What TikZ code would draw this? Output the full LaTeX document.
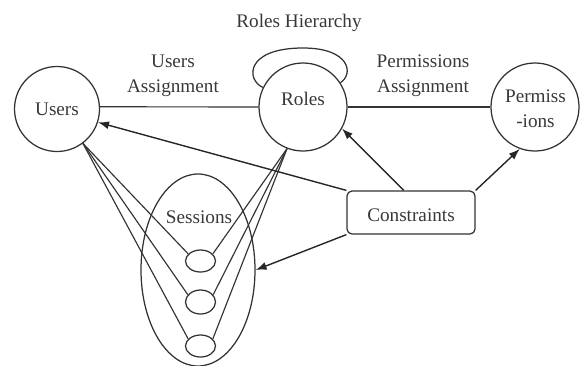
\documentclass[tikz,border=0pt]{standalone}
\usepackage{fontspec}
\setmainfont{Liberation Serif}
\usetikzlibrary{shapes.geometric,arrows.meta}
\begin{document}
\begin{tikzpicture}[x=1pt,y=1pt,
  ink/.style={draw=black!80,line width=1.25pt},
  circ/.style={ink,circle,minimum size=87pt,inner sep=0pt,align=center},
  sess/.style={ink,ellipse,minimum width=30pt,inner sep=0pt},
  lbl/.style={text=black!78,font=\fontsize{19.2}{25}\selectfont,align=center,inner sep=0pt},
  link/.style={draw=black!80,line width=1.15pt},
  arr/.style={draw=black!85,line width=1.4pt,-{Latex[length=11pt,width=8pt]}}
]
\useasboundingbox (0,-365) rectangle (580,0);
\clip (0,-365) rectangle (580,0);
\node[circ,minimum size=85pt] (users) at (57,-109) {};
\node[circ,minimum size=88pt] (roles) at (303,-107) {};
\node[circ,minimum size=88pt] (perm) at (535,-107) {};
\node[ink,ellipse,minimum width=114pt,minimum height=192pt,inner sep=0pt] (sessions) at (198,-270) {};
\node[sess,minimum height=22pt] (s1) at (200.5,-261) {};
\node[sess,minimum height=24pt] (s2) at (200.5,-302) {};
\node[sess,minimum height=22pt] (s3) at (200.5,-346) {};
\node[ink,rectangle,rounded corners=5pt,minimum width=128pt,minimum height=43pt,inner sep=0pt] (cons) at (411,-212.5) {};
\node[lbl] (tusers) at (57,-109) {Users};
\node[lbl] (troles) at (303,-99) {Roles};
\node[lbl] (tperm) at (535.5,-109) {Permiss\\[0pt]-ions};
\node[lbl] (tsess) at (199,-217) {Sessions};
\node[lbl] (tcons) at (411,-215) {Constraints};
\node[lbl] (thier) at (299,-23) {Roles Hierarchy};
\node[lbl] (tua) at (173,-75.5) {Users\\[0pt]Assignment};
\node[lbl] (tpa) at (423,-75.5) {Permissions\\[0pt]Assignment};
\draw[link] (users.3) -- (roles.west);
\draw[link] (roles.east) -- (perm.west);
\foreach \s in {s1,s2,s3}{
  \draw[link] (users.-53) -- (\s.150);
  \draw[link] (roles.-111) -- (\s.30);
}
\draw[ink] (roles.154) .. controls (246,-80) and (245,-48) .. (303,-48)
  .. controls (350,-48) and (354,-74) .. (roles.33);
\draw[arr] (cons.north west) -- (users.-18);
\draw[arr] (cons.108) -- (roles.-29);
\draw[arr] (cons.north east) -- (perm.-110);
\draw[arr] (cons.south west) -- (sessions.east);
\end{tikzpicture}
\end{document}
